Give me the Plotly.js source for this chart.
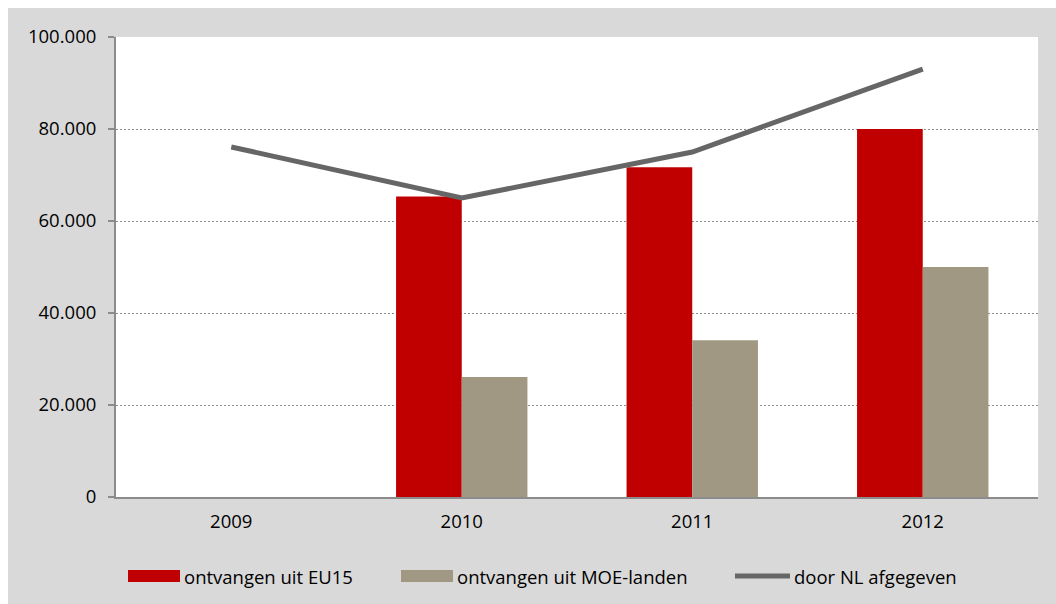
<!DOCTYPE html>
<html>
<head>
<meta charset="utf-8">
<script src="https://cdn.plot.ly/plotly-3.0.1.min.js"></script>
<style>html,body{margin:0;padding:0;background:#fff;}#chart{width:1056px;height:604px;}</style>
</head>
<body>
<div id="chart"></div>
<script>
const years = ['2009', '2010', '2011', '2012'];
const eu15 = [null, 65300, 71700, 80000];
const moe = [null, 26100, 34100, 50000];
const nl = [76100, 65000, 75000, 93000];
const seriesNames = ['ontvangen uit EU15', 'ontvangen uit MOE-landen', 'door NL afgegeven'];
const colors = ['#c00000', '#a09882', '#666666'];

const W = 1056, H = 604;
const M = {l: 116, r: 18, t: 37, b: 107};
const pw = W - M.l - M.r, ph = H - M.t - M.b;
const px = x => (x - M.l) / pw;
const py = y => (H - M.b - y) / ph;
const FONT = '"Open Sans", Lato, "DejaVu Sans", sans-serif';
const FS = 18.5;

const traces = [
  {type: 'bar', x: years, y: eu15, name: seriesNames[0], marker: {color: colors[0]}, showlegend: false, hoverinfo: 'x+y'},
  {type: 'bar', x: years, y: moe, name: seriesNames[1], marker: {color: colors[1]}, showlegend: false, hoverinfo: 'x+y'},
  {type: 'scatter', mode: 'lines', x: years, y: nl, name: seriesNames[2], line: {color: colors[2], width: 5}, showlegend: false, hoverinfo: 'x+y'}
];

// custom legend (layout positions only)
const legendY = 576;
const legendItems = [
  {x0: 128, x1: 180, tx: 182, kind: 'rect'},
  {x0: 401, x1: 453, tx: 455, kind: 'rect'},
  {x0: 735, x1: 790, tx: 792, kind: 'line'}
];
const shapes = [
  {type: 'rect', xref: 'paper', yref: 'paper', x0: px(0), x1: px(W), y0: py(0), y1: py(8), fillcolor: '#ffffff', line: {width: 0}, layer: 'below'},
  {type: 'rect', xref: 'paper', yref: 'paper', x0: px(0), x1: px(8), y0: py(0), y1: py(H), fillcolor: '#ffffff', line: {width: 0}, layer: 'below'}
];
const annotations = [];
legendItems.forEach((it, i) => {
  if (it.kind === 'rect') {
    shapes.push({type: 'rect', xref: 'paper', yref: 'paper', x0: px(it.x0), x1: px(it.x1), y0: py(legendY - 6), y1: py(legendY + 6), fillcolor: colors[i], line: {width: 0}});
  } else {
    shapes.push({type: 'line', xref: 'paper', yref: 'paper', x0: px(it.x0), x1: px(it.x1), y0: py(legendY), y1: py(legendY), line: {color: colors[i], width: 5}});
  }
  annotations.push({xref: 'paper', yref: 'paper', x: px(it.tx), y: py(legendY), xanchor: 'left', yanchor: 'middle', text: seriesNames[i], showarrow: false, font: {family: FONT, size: FS, color: '#000'}});
});

const layout = {
  width: W, height: H,
  margin: M,
  paper_bgcolor: '#d9d9d9',
  plot_bgcolor: '#ffffff',
  separators: ',.',
  font: {family: FONT, size: FS, color: '#000'},
  barmode: 'group',
  bargap: 0.43,
  bargroupgap: 0,
  showlegend: false,
  xaxis: {
    type: 'category',
    showline: true, linecolor: '#8c8c8c', linewidth: 2,
    showgrid: false, ticks: '', ticklabelstandoff: 7,
    tickfont: {family: FONT, size: FS, color: '#000'},
    fixedrange: true
  },
  yaxis: {
    range: [0, 100000], dtick: 20000, tick0: 0,
    tickformat: ',d',
    showline: true, linecolor: '#8c8c8c', linewidth: 2,
    ticks: 'outside', ticklen: 6, tickcolor: '#8c8c8c', tickwidth: 2,
    ticklabelstandoff: 8,
    showgrid: true, gridcolor: '#8c8c8c', griddash: '2px,2px', gridwidth: 1,
    zeroline: false,
    tickfont: {family: FONT, size: FS, color: '#000'},
    fixedrange: true
  },
  shapes: shapes,
  annotations: annotations
};

Plotly.newPlot('chart', traces, layout, {displayModeBar: false, staticPlot: true});
</script>
</body>
</html>
